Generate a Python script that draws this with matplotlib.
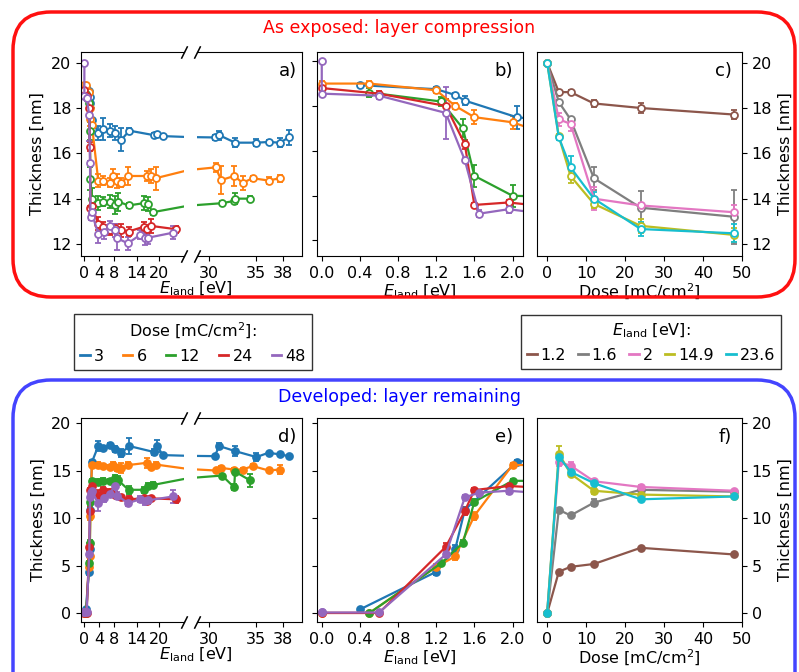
import matplotlib
matplotlib.use("Agg")
import matplotlib.pyplot as plt
from matplotlib.patches import FancyBboxPatch
from matplotlib.transforms import IdentityTransform

plt.rcParams["font.size"] = 11.5

# ---- thickness vs landing energy, one set per dose [mC/cm^2] ----
doses = ["3", "6", "12", "24", "48"]
dose_colors = ["tab:blue", "tab:orange", "tab:green", "tab:red", "tab:purple"]

e_d3 = [0.4, 1.2, 1.4, 1.5, 2.05, 3.7, 5.1, 6.75, 8.1, 9.9, 12, 18.6, 19.5, 20.9,
        30.6, 31.1, 32.8, 35.1, 36.4, 37.6, 38.6]
exp_d3 = [18.93, 18.75, 18.49, 18.24, 17.49, 16.9, 17.07, 17.0, 16.9, 16.6, 17.0, 16.8, 16.85, 16.76,
          16.7, 16.8, 16.47, 16.47, 16.5, 16.47, 16.7]
exp_d3_err = [0.1, 0.1, 0.1, 0.2, 0.5, 0.3, 0.5, 0.3, 0.3, 0.5, 0.1, 0.1, 0.1, 0.1,
              0.1, 0.2, 0.2, 0.15, 0.1, 0.2, 0.35]
dev_d3 = [0.42, 4.38, 6.8, 10.9, 15.95, 17.6, 17.4, 17.7, 17.3, 16.9, 17.6, 16.97, 17.6, 16.65,
          16.54, 17.6, 17.07, 16.44, 16.9, 16.72, 16.54]
dev_d3_err = [0.1, 0.3, 0.4, 0.3, 0.2, 0.5, 0.2, 0.2, 0.3, 0.4, 0.8, 0.3, 0.6, 0.2,
              0.1, 0.3, 0.5, 0.4, 0.1, 0.2, 0.1]

e_d6 = [0, 0.5, 1.2, 1.4, 1.6, 2.0, 3.7, 5.1, 6.75, 7.6, 8.8, 9.9, 11.7, 16.7, 17.7, 19.0,
        30.7, 31.3, 32.7, 33.6, 34.7, 36.4, 37.6]
exp_d6 = [19.0, 19.0, 18.7, 18.0, 17.5, 17.27, 14.8, 14.8, 14.7, 15.0, 14.78, 14.7, 15.0, 15.0, 15.0, 14.9,
          15.38, 14.82, 15.0, 14.7, 14.9, 14.8, 14.9]
exp_d6_err = [0.1, 0.1, 0.1, 0.15, 0.3, 0.3, 0.3, 0.2, 0.2, 0.3, 0.3, 0.2, 0.4, 0.2, 0.3, 0.5,
              0.2, 0.6, 0.45, 0.3, 0.1, 0.15, 0.15]
dev_d6 = [0.05, 0.05, 4.9, 6.0, 10.27, 15.6, 15.66, 15.5, 15.4, 15.66, 15.3, 15.3, 15.6, 15.84, 15.4, 15.66,
          15.03, 15.3, 15.13, 15.13, 15.5, 15.03, 15.13]
dev_d6_err = [0.1, 0.1, 0.3, 0.4, 0.4, 0.2, 0.3, 0.2, 0.2, 0.3, 0.3, 0.5, 0.3, 0.5, 0.2, 0.3,
              0.2, 0.2, 0.2, 0.2, 0.2, 0.2, 0.5]

e_d12 = [0.5, 1.25, 1.48, 1.6, 2.0, 3.7, 5.1, 6.75, 8.1, 9.0, 11.8, 15.8, 17.0, 18.2,
         31.4, 32.7, 32.8, 34.4]
exp_d12 = [18.6, 18.2, 17.0, 14.88, 13.99, 13.8, 13.87, 13.87, 13.72, 13.87, 13.7, 13.8, 13.77, 13.4,
           13.8, 13.9, 14.0, 14.0]
exp_d12_err = [0.2, 0.2, 0.4, 0.5, 0.5, 0.3, 0.2, 0.3, 0.4, 0.4, 0.1, 0.3, 0.3, 0.1,
               0.1, 0.1, 0.25, 0.1]
dev_d12 = [0.05, 5.26, 7.43, 11.74, 13.95, 13.8, 13.9, 13.9, 14.25, 14.0, 13.0, 13.0, 13.4, 13.5,
           14.5, 13.26, 14.9, 14.0]
dev_d12_err = [0.1, 0.3, 0.3, 0.3, 0.2, 0.3, 0.3, 0.2, 0.3, 0.5, 0.4, 0.3, 0.3, 0.3,
               0.2, 0.3, 0.2, 0.7]

e_d24 = [0, 0.6, 1.3, 1.5, 1.6, 1.96, 3.7, 5.1, 6.75, 8.1, 9.9, 11.8, 15.8, 16.7, 17.7, 24.5]
exp_d24 = [18.8, 18.55, 18.0, 16.3, 13.58, 13.69, 12.9, 12.76, 12.6, 12.7, 12.6, 12.55, 12.76, 12.65, 12.8, 12.65]
exp_d24_err = [0.1, 0.1, 0.3, 0.2, 0.1, 0.1, 0.3, 0.2, 0.2, 0.2, 0.3, 0.2, 0.2, 0.2, 0.3, 0.15]
dev_d24 = [0.05, 0.05, 7.0, 10.76, 12.97, 13.4, 12.5, 13.0, 12.8, 12.5, 12.2, 12.0, 12.1, 11.85, 12.1, 12.0]
dev_d24_err = [0.1, 0.1, 0.4, 0.4, 0.2, 0.2, 0.5, 0.3, 0.3, 0.3, 0.3, 0.3, 0.3, 0.3, 0.3, 0.4]

e_d48 = [0, 0, 0.6, 1.3, 1.5, 1.65, 1.96, 3.7, 5.3, 6.75, 8.1, 8.8, 11.6, 14.9, 16.2, 17.1, 23.7]
exp_d48 = [20.0, 18.55, 18.46, 17.69, 15.58, 13.19, 13.39, 12.44, 12.54, 12.8, 12.6, 12.25, 12.03,
           12.4, 12.25, 12.28, 12.5]
exp_d48_err = [0.05, 0.05, 0.15, 1.15, 0.1, 0.15, 0.15, 0.4, 0.3, 0.2, 0.3, 0.5, 0.3, 0.2, 0.3, 0.3, 0.3]
dev_d48 = [0.1, 0.1, 0.1, 6.2, 12.2, 12.7, 12.9, 11.6, 12.1, 12.6, 13.4, 12.4, 11.6, 12.0, 11.8, 11.9, 12.3]
dev_d48_err = [0.1, 0.1, 0.1, 0.3, 0.3, 0.3, 0.3, 0.8, 0.4, 0.3, 0.4, 0.4, 0.3, 0.3, 0.4, 0.4, 0.7]

energy_sets = [
    (e_d3, exp_d3, exp_d3_err, dev_d3, dev_d3_err),
    (e_d6, exp_d6, exp_d6_err, dev_d6, dev_d6_err),
    (e_d12, exp_d12, exp_d12_err, dev_d12, dev_d12_err),
    (e_d24, exp_d24, exp_d24_err, dev_d24, dev_d24_err),
    (e_d48, exp_d48, exp_d48_err, dev_d48, dev_d48_err),
]

# ---- thickness vs dose, one set per landing energy [eV] ----
dose_x = [0, 3, 6, 12, 24, 48]
energies = ["1.2", "1.6", "2", "14.9", "23.6"]
energy_colors = ["tab:brown", "tab:gray", "tab:pink", "tab:olive", "tab:cyan"]

exp_by_e = [
    [20.0, 18.7, 18.7, 18.2, 18.0, 17.71],
    [20.0, 18.26, 17.5, 14.9, 13.6, 13.2],
    [20.0, 17.5, 17.3, 14.0, 13.7, 13.4],
    [20.0, 16.75, 15.0, 13.77, 12.8, 12.4],
    [20.0, 16.7, 15.38, 14.0, 12.66, 12.47],
]
exp_by_e_err = [
    [0.03, 0.1, 0.1, 0.15, 0.2, 0.2],
    [0.03, 0.1, 0.1, 0.5, 0.75, 1.2],
    [0.03, 0.3, 0.3, 0.5, 0.1, 0.3],
    [0.03, 0.1, 0.3, 0.2, 0.3, 0.3],
    [0.03, 0.1, 0.5, 0.3, 0.3, 0.4],
]
dev_by_e = [
    [0.0, 4.39, 4.9, 5.2, 6.9, 6.2],
    [0.0, 10.9, 10.3, 11.65, 13.0, 12.8],
    [0.0, 15.9, 15.55, 13.9, 13.3, 12.9],
    [0.0, 16.8, 14.7, 12.9, 12.5, 12.3],
    [0.0, 16.5, 14.9, 13.7, 12.0, 12.3],
]
dev_by_e_err = [
    [0.05, 0.1, 0.1, 0.1, 0.1, 0.1],
    [0.05, 0.2, 0.2, 0.4, 0.1, 0.1],
    [0.05, 0.4, 0.4, 0.2, 0.2, 0.1],
    [0.05, 0.8, 0.3, 0.3, 0.1, 0.1],
    [0.05, 0.2, 0.2, 0.2, 0.1, 0.1],
]

W, H = 799, 672
fig = plt.figure(figsize=(W / 100, H / 100), dpi=100)


def px_axes(x0, x1, y0, y1):
    return fig.add_axes([x0 / W, 1 - y1 / H, (x1 - x0) / W, (y1 - y0) / H])


def style_kw(color, filled):
    return dict(fmt="-o", color=color, mfc=color if filled else "white", mec=color,
                ms=5, mew=1.3, lw=1.6, elinewidth=1.3, capsize=2.5, capthick=1.3)


def broken_pair(y0, y1):
    left = px_axes(81, 184, y0, y1)
    right = px_axes(197, 302, y0, y1)
    left.spines["right"].set_visible(False)
    right.spines["left"].set_visible(False)
    right.tick_params(left=False, labelleft=False)
    kw = dict(marker=[(-0.5, -1), (0.5, 1)], markersize=9, linestyle="none",
              color="k", mec="k", mew=1.1, clip_on=False)
    left.plot([1, 1], [0, 1], transform=left.transAxes, **kw)
    right.plot([0, 0], [0, 1], transform=right.transAxes, **kw)
    left.set_xlim(-0.9, 26.6)
    right.set_xlim(28.7, 40.0)
    left.set_xticks([0, 4, 8, 14, 20])
    right.set_xticks([30, 35, 38])
    return left, right


rows = [(52, 256, False, 1, (11.47, 20.47), [12, 14, 16, 18, 20], (11.3, 20.41)),
        (418, 622, True, 3, (-0.9, 20.55), [0, 5, 10, 15, 20], (-0.9, 20.55))]
letters = [("a)", "b)", "c)"), ("d)", "e)", "f)")]

for (y0, y1, filled, idx, ylim, yticks, ylim_b), let in zip(rows, letters):
    ax_l, ax_r = broken_pair(y0, y1)
    ax_b = px_axes(317, 523, y0, y1)
    ax_c = px_axes(537, 742, y0, y1)

    for col, data in zip(dose_colors, energy_sets):
        e, t, err = data[0], data[idx], data[idx + 1]
        for ax in (ax_l, ax_r, ax_b):
            ax.errorbar(e, t, yerr=err, **style_kw(col, filled))

    for col, t, err in zip(energy_colors,
                           exp_by_e if not filled else dev_by_e,
                           exp_by_e_err if not filled else dev_by_e_err):
        ax_c.errorbar(dose_x, t, yerr=err, **style_kw(col, filled))

    for ax in (ax_l, ax_r, ax_c):
        ax.set_ylim(*ylim)
        ax.set_yticks(yticks)
    ax_b.set_ylim(*ylim_b)
    ax_b.set_yticks(yticks)
    ax_b.tick_params(labelleft=False)

    ax_b.set_xlim(-0.05, 2.11)
    ax_b.set_xticks([0.0, 0.4, 0.8, 1.2, 1.6, 2.0])
    ax_b.set_xticklabels(["0.0", "0.4", "0.8", "1.2", "1.6", "2.0"])
    ax_b.set_xlabel(r"$E_\mathrm{land}$ [eV]", labelpad=1)

    ax_c.set_xlim(-2.6, 50)
    ax_c.set_xticks([0, 10, 20, 30, 40, 50])
    ax_c.yaxis.tick_right()
    ax_c.yaxis.set_label_position("right")
    ax_c.set_ylabel("Thickness [nm]")
    ax_c.set_xlabel(r"Dose [mC/cm$^2$]", labelpad=1)

    ax_l.set_ylabel("Thickness [nm]")
    fig.text(196 / W, 1 - (y1 + 33) / H, r"$E_\mathrm{land}$ [eV]", ha="center", va="center")

    for ax, s in zip((ax_r, ax_b, ax_c), let):
        ax.text(0.95, 0.95, s, transform=ax.transAxes, ha="right", va="top", fontsize=13)

# legends
dose_handles = [plt.Line2D([], [], color=c, lw=2) for c in dose_colors]
fig.legend(dose_handles, doses, title=r"Dose [mC/cm$^2$]:", ncol=5,
           loc="center", bbox_to_anchor=(193 / W, 1 - 342 / H),
           handlelength=0.6, handletextpad=0.25, columnspacing=1.2,
           fancybox=False, edgecolor="#333333", framealpha=1,
           fontsize=11.5, title_fontsize=11.5, borderpad=0.4)
e_handles = [plt.Line2D([], [], color=c, lw=2) for c in energy_colors]
fig.legend(e_handles, energies, title=r"$E_\mathrm{land}$ [eV]:", ncol=5,
           loc="center", bbox_to_anchor=(651 / W, 1 - 342 / H),
           handlelength=0.6, handletextpad=0.25, columnspacing=0.75,
           fancybox=False, edgecolor="#333333", framealpha=1,
           fontsize=11.5, title_fontsize=11.5, borderpad=0.4)

# rounded section boxes (display pixel coordinates)
red_box = FancyBboxPatch((13, H - 297), 782, 285, boxstyle="round,pad=0,rounding_size=38",
                         transform=IdentityTransform(), fill=False, ec="#ff1010", lw=2.5)
blue_box = FancyBboxPatch((13, -60), 782, H - 380 + 60, boxstyle="round,pad=0,rounding_size=38",
                          transform=IdentityTransform(), fill=False, ec="#4444ff", lw=2.5)
fig.patches.extend([red_box, blue_box])

fig.text(0.5, 1 - 28 / H, "As exposed: layer compression", color="#ff0000",
         ha="center", va="center", fontsize=12.5)
fig.text(0.5, 1 - 397 / H, "Developed: layer remaining", color="#0000ff",
         ha="center", va="center", fontsize=12.5)

fig.savefig("out.png", dpi=100)
